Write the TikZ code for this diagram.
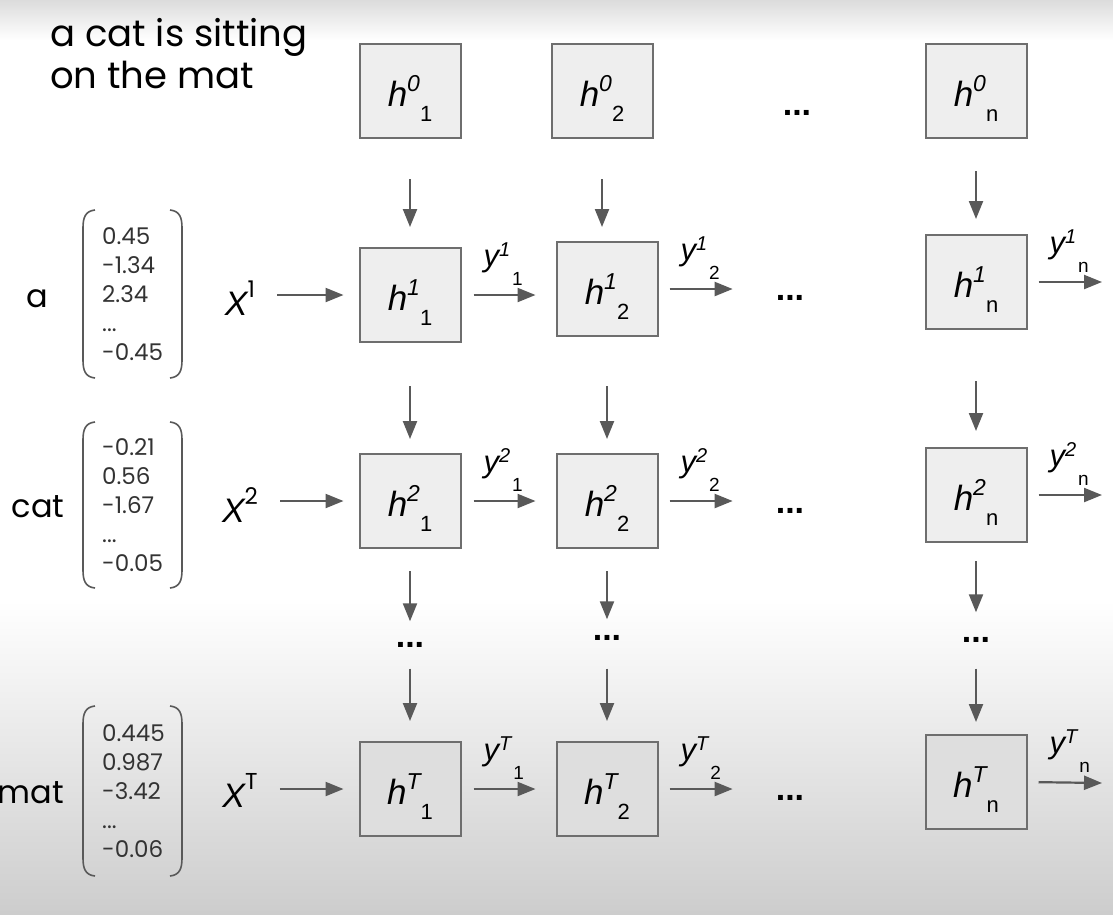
\documentclass[tikz,border=0pt]{standalone}
\usepackage{fontspec}
\setmainfont{Poppins}
\newfontfamily\symfont{Liberation Sans}
\usetikzlibrary{arrows.meta}

\definecolor{cellfill}{HTML}{EEEEEE}
\definecolor{celldark}{HTML}{DEDEDE}
\definecolor{boxline}{HTML}{6E6E6E}
\definecolor{arrowgray}{HTML}{595959}
\definecolor{numgray}{HTML}{333333}
\definecolor{bgtop}{HTML}{DCDCDC}
\definecolor{bgbottom}{HTML}{CDCDCD}

\newcommand{\hlab}[2]{{\symfont\fontsize{35}{35}\selectfont\itshape h}%
  \raisebox{15pt}{\symfont\fontsize{23}{23}\selectfont\itshape #1}%
  \raisebox{-15pt}{\symfont\fontsize{22}{22}\selectfont #2}}
\newcommand{\ylab}[2]{{\symfont\fontsize{31}{31}\selectfont\itshape y}%
  \raisebox{10pt}{\symfont\fontsize{20}{20}\selectfont\itshape #1}%
  \hspace{2pt}\raisebox{-19pt}{\symfont\fontsize{19}{19}\selectfont #2}}
\newcommand{\xlab}[1]{{\symfont\fontsize{34}{34}\selectfont\itshape X}%
  \raisebox{18pt}{\fontsize{23}{23}\selectfont #1}}

\tikzset{
  cell/.style={draw=boxline, line width=2pt, fill=cellfill, minimum width=101pt, minimum height=94pt, inner sep=0pt},
  lastcell/.style={cell, fill=celldark},
  arr/.style={draw=arrowgray, line width=2.2pt, -{Triangle[length=18pt,width=14pt]}},
  ytag/.style={at start, anchor=south west, inner sep=0pt, xshift=21pt, yshift=8pt},
  dots/.style={font=\symfont\bfseries\fontsize{34}{34}\selectfont, inner sep=0pt},
  vec/.style={align=left, font=\fontsize{23}{29}\selectfont, inner sep=0pt, anchor=west, text=numgray},
  word/.style={font=\fontsize{32}{32}\selectfont, anchor=base, inner sep=0pt},
  xtag/.style={inner sep=0pt},
  paren/.style={draw=arrowgray, line width=1.6pt}
}

\begin{document}
\begin{tikzpicture}[x=1pt,y=-1pt]
\useasboundingbox (0,0) rectangle (1113,914);
\fill[white] (0,0) rectangle (1113,914);
\shade[top color=bgtop, bottom color=white] (0,0) rectangle (1113,40);
\shade[top color=white, bottom color=bgbottom] (0,600) rectangle (1113,914);

% sentence
\node[font=\fontsize{37}{37}\selectfont, anchor=base west, inner sep=0pt] (t1) at (50,46) {a cat is sitting};
\node[font=\fontsize{37}{37}\selectfont, anchor=base west, inner sep=0pt] (t2) at (50,88) {on the mat};

% initial states
\node[cell, label={[yshift=-7.5pt]center:\hlab{0}{1}}] (h01) at (410,91) {};
\node[cell, label={[yshift=-7.5pt]center:\hlab{0}{2}}] (h02) at (602,91) {};
\node[dots] (d0) at (797,113) {...};
\node[cell, label={[yshift=-7.5pt]center:\hlab{0}{n}}] (h0n) at (976,91) {};

% word 1
\node[word] (wa) at (37,307) {a};
\draw[paren] (95,210) .. controls (85,211) and (83,218) .. (83,228) -- (83,360) .. controls (83,370) and (85,377) .. (95,378);
\draw[paren] (170,210) .. controls (180,211) and (182,218) .. (182,228) -- (182,360) .. controls (182,370) and (180,377) .. (170,378);
\node[vec] (v1) at (102,294) {0.45\\-1.34\\2.34\\...\\-0.45};
\node[xtag] (X1) at (240,298) {\xlab{1}};
\node[cell, label={[yshift=-7.5pt]center:\hlab{1}{1}}] (h11) at (410,295) {};
\node[cell, label={[yshift=-7.5pt]center:\hlab{1}{2}}] (h12) at (607,289) {};
\node[dots] (d1) at (790,298) {...};
\node[cell, label={[yshift=-7.5pt]center:\hlab{1}{n}}] (h1n) at (976,282) {};
\coordinate (e1) at (1102,282);

% word 2
\node[word] (wcat) at (38,517) {cat};
\draw[paren] (95,422) .. controls (85,423) and (83,430) .. (83,440) -- (83,570) .. controls (83,580) and (85,587) .. (95,588);
\draw[paren] (170,422) .. controls (180,423) and (182,430) .. (182,440) -- (182,570) .. controls (182,580) and (180,587) .. (170,588);
\node[vec] (v2) at (102,505) {-0.21\\0.56\\-1.67\\...\\-0.05};
\node[xtag] (X2) at (240,505) {\xlab{2}};
\node[cell, label={[yshift=-7.5pt]center:\hlab{2}{1}}] (h21) at (410,501) {};
\node[cell, label={[yshift=-7.5pt]center:\hlab{2}{2}}] (h22) at (607,501) {};
\node[dots] (d2) at (790,511) {...};
\node[cell, label={[yshift=-7.5pt]center:\hlab{2}{n}}] (h2n) at (976,495) {};
\coordinate (e2) at (1102,495);

% skipped steps
\node[dots] (c1) at (410,645) {...};
\node[dots] (c2) at (607,638) {...};
\node[dots] (cn) at (976,640) {...};

% last word
\node[word] (wmat) at (31,803) {mat};
\draw[paren] (95,706) .. controls (85,707) and (83,714) .. (83,724) -- (83,858) .. controls (83,868) and (85,875) .. (95,876);
\draw[paren] (170,706) .. controls (180,707) and (182,714) .. (182,724) -- (182,858) .. controls (182,868) and (180,875) .. (170,876);
\node[vec] (vT) at (102,791) {0.445\\0.987\\-3.42\\...\\-0.06};
\node[xtag] (XT) at (240,790) {\xlab{T}};
\node[lastcell, label={[yshift=-7.5pt]center:\hlab{T}{1}}] (hT1) at (410,789) {};
\node[lastcell, label={[yshift=-7.5pt]center:\hlab{T}{2}}] (hT2) at (607,789) {};
\node[dots] (dT) at (790,798) {...};
\node[lastcell, label={[yshift=-7.5pt]center:\hlab{T}{n}}] (hTn) at (976,782) {};
\coordinate (eT) at (1102,783);

% inputs
\draw[arr, shorten <=22pt, shorten >=15pt] (X1.east |- h11.west) -- (h11.west);
\draw[arr, shorten <=22pt, shorten >=15pt] (X2.east |- h21.west) -- (h21.west);
\draw[arr, shorten <=22pt, shorten >=15pt] (XT.east |- hT1.west) -- (hT1.west);

% outputs
\draw[arr, shorten <=12pt, shorten >=20pt] (h11.east) -- node[ytag]{\ylab{1}{1}} (h11.east -| h12.west);
\draw[arr, shorten <=11pt, shorten >=43pt] (h12.east) -- node[ytag]{\ylab{1}{2}} (h12.east -| d1.west);
\draw[arr, shorten <=11pt] (h1n.east) -- node[ytag]{\ylab{1}{n}} (e1);
\draw[arr, shorten <=12pt, shorten >=20pt] (h21.east) -- node[ytag]{\ylab{2}{1}} (h21.east -| h22.west);
\draw[arr, shorten <=11pt, shorten >=43pt] (h22.east) -- node[ytag]{\ylab{2}{2}} (h22.east -| d2.west);
\draw[arr, shorten <=11pt] (h2n.east) -- node[ytag]{\ylab{2}{n}} (e2);
\draw[arr, shorten <=12pt, shorten >=20pt] (hT1.east) -- node[ytag]{\ylab{T}{1}} (hT1.east -| hT2.west);
\draw[arr, shorten <=11pt, shorten >=43pt] (hT2.east) -- node[ytag]{\ylab{T}{2}} (hT2.east -| dT.west);
\draw[arr, shorten <=11pt] (hTn.east) -- node[ytag]{\ylab{T}{n}} (eT);

% hidden state passing
\draw[arr, shorten <=40pt, shorten >=20pt] (h01) -- (h11);
\draw[arr, shorten <=40pt, shorten >=14pt] (h02.south) -- (h02.south |- h12.north);
\draw[arr, shorten <=32pt, shorten >=15pt] (h0n) -- (h1n);
\draw[arr, shorten <=43pt, shorten >=14pt] (h11) -- (h21);
\draw[arr, shorten <=49pt, shorten >=14pt] (h12) -- (h22);
\draw[arr, shorten <=51pt, shorten >=16pt] (h1n) -- (h2n);
\draw[arr, shorten <=22pt, shorten >=21pt] (h21) -- (c1);
\draw[arr, shorten <=22pt, shorten >=16pt] (h22) -- (c2);
\draw[arr, shorten <=18pt, shorten >=25pt] (h2n) -- (cn);
\draw[arr, shorten <=21pt, shorten >=20pt] (c1) -- (hT1);
\draw[arr, shorten <=28pt, shorten >=20pt] (c2) -- (hT2);
\draw[arr, shorten <=26pt, shorten >=12pt] (cn) -- (hTn);
\end{tikzpicture}
\end{document}
